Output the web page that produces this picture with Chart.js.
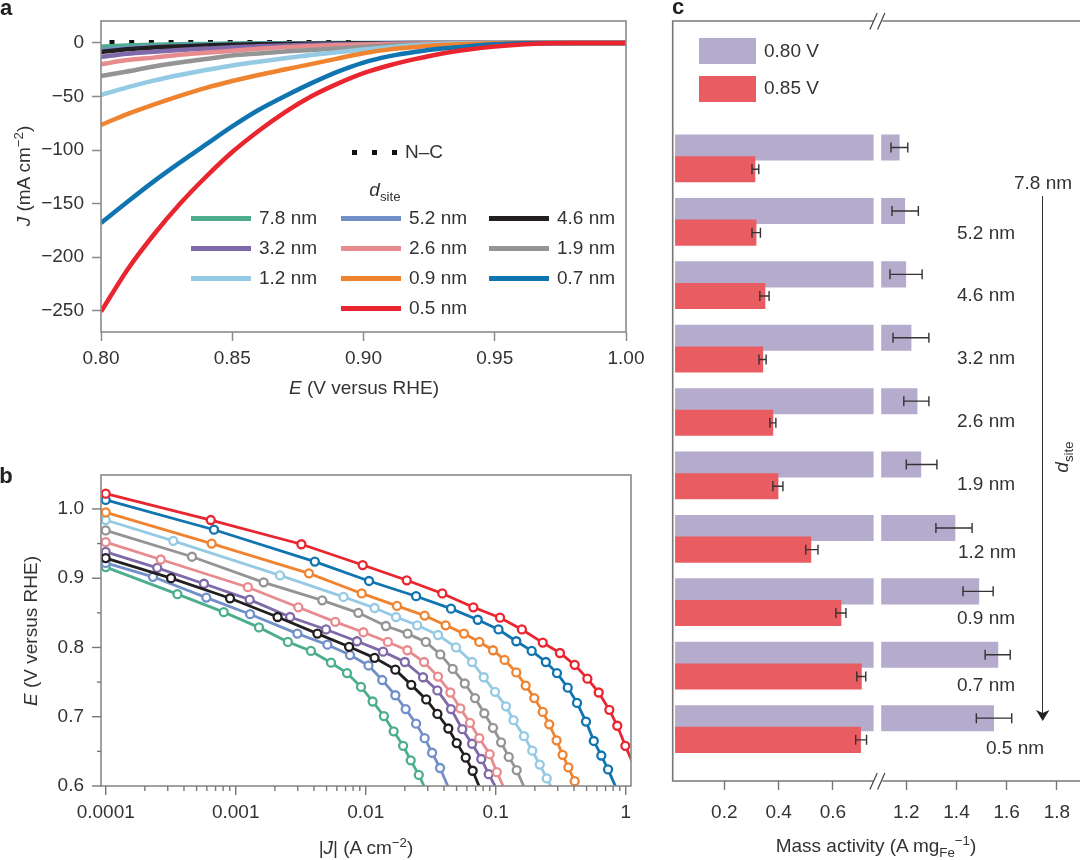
<!DOCTYPE html>
<html>
<head>
<meta charset="utf-8">
<script src="https://cdn.jsdelivr.net/npm/chart.js@4"></script>
<style>
    body { margin: 0; background: #fff; }
    #page { position: relative; width: 1080px; height: 860px; overflow: hidden;
            font-family: "Liberation Sans", sans-serif; font-size: 19px; color: #333; }
    canvas { position: absolute; }
    .lbl { position: absolute; white-space: nowrap; transform: translate(-50%, -50%); }
    .rot { transform: translate(-50%, -50%) rotate(-90deg); }
    .left { transform: translate(0, -50%); }
    .swatch { position: absolute; }
    .letter { font-weight: bold; font-size: 22px; color: #222; }
    sub, sup { font-size: 70%; line-height: 0; }
</style>
</head>
<body>
<div id="page">
    <canvas id="chartA" width="660" height="400" style="left:0;top:0"></canvas>
    <canvas id="chartB" width="660" height="400" style="left:0;top:460px"></canvas>
    <canvas id="chartC" width="420" height="860" style="left:660px;top:0"></canvas>
</div>
<script>
// panel a: polarisation curves
const aE = [0.80, 0.81, 0.82, 0.83, 0.84, 0.85, 0.86, 0.87, 0.88, 0.89, 0.90, 0.91, 0.92, 0.93, 0.94, 0.95, 0.96, 0.97, 0.98, 1.00];
const aNC = [0.5, 0.5, 0.5, 0.5, 0.5, 0.5, 0.5, 0.5, 0.5, 0.5, 0.5];
const a78 = [-3.5, -2.4, -1.7, -1.2, -0.9, -0.6, -0.4, -0.3, -0.2, -0.1, 0, 0, 0, 0, 0, 0, 0, 0, 0, 0];
const a52 = [-6.5, -4.7, -3.4, -2.6, -1.9, -1.4, -1, -0.7, -0.5, -0.35, -0.2, -0.1, -0.05, 0, 0, 0, 0, 0, 0, 0];
const a46 = [-8.5, -5.8, -4.3, -3.3, -2.5, -1.8, -1.3, -0.95, -0.7, -0.5, -0.35, -0.2, -0.1, -0.05, 0, 0, 0, 0, 0, 0];
const a32 = [-13, -10, -8.2, -6.6, -5.3, -4.1, -3.2, -2.4, -1.8, -1.3, -0.9, -0.6, -0.35, -0.2, -0.1, 0, 0, 0, 0, 0];
const a26 = [-20, -16, -13.7, -11, -9.2, -7.2, -5.4, -3.9, -2.8, -2.1, -1.5, -1, -0.6, -0.3, -0.1, 0, 0, 0, 0, 0];
const a19 = [-31, -26.6, -22, -18.2, -15, -11.7, -9.8, -7.9, -6.5, -5.1, -3.7, -2.3, -1.4, -0.7, -0.2, 0, 0, 0, 0, 0];
const a12 = [-48.6, -41.5, -35.2, -29.9, -25.2, -21, -17.5, -14.3, -11.3, -8.6, -6.2, -4, -2.2, -1, -0.3, 0, 0, 0, 0, 0];
const a09 = [-76.6, -66.5, -57.7, -49.5, -42, -35.6, -29.9, -24.8, -19.8, -14.6, -9.6, -6, -3.7, -2, -0.9, -0.2, 0, 0, 0, 0];
const a07 = [-168.1, -148.5, -129.5, -111.8, -94.8, -78, -62.7, -49.8, -37.8, -27, -18.3, -12.3, -8.2, -5.2, -3, -1.3, -0.3, 0, 0, 0];
const a05 = [-251, -212, -179.4, -150.5, -125, -101.9, -82.2, -64.8, -50, -38.2, -28.2, -20.8, -14.9, -9.8, -6.1, -3.3, -1.4, -0.3, -0.05, 0];
const aXTicks = [0.80, 0.85, 0.90, 0.95, 1.00];
const aYTicks = [-250, -200, -150, -100, -50, 0];

// panel b: Tafel plots, |J| then E for each site distance
const bJ78 = [0.0001, 0.000356, 0.000809, 0.00151, 0.00252, 0.00379, 0.00541, 0.00718, 0.0092, 0.0113, 0.0138, 0.0164, 0.0194, 0.0222, 0.0256, 0.0281];
const bE78 = [0.916, 0.877, 0.851, 0.829, 0.808, 0.795, 0.778, 0.763, 0.743, 0.722, 0.701, 0.679, 0.658, 0.637, 0.616, 0.600];
const bJ52 = [0.0001, 0.000231, 0.000594, 0.00129, 0.00298, 0.00507, 0.00757, 0.0105, 0.0134, 0.0169, 0.0203, 0.0244, 0.0284, 0.0324, 0.0373, 0.0428];
const bE52 = [0.922, 0.902, 0.872, 0.848, 0.820, 0.804, 0.789, 0.774, 0.753, 0.731, 0.711, 0.690, 0.669, 0.648, 0.626, 0.600];
const bJ46 = [0.0001, 0.000318, 0.000904, 0.0021, 0.00425, 0.00745, 0.0117, 0.0169, 0.0224, 0.0292, 0.0356, 0.0432, 0.0501, 0.0588, 0.0665, 0.0744];
const bE46 = [0.929, 0.900, 0.871, 0.844, 0.820, 0.801, 0.785, 0.768, 0.746, 0.725, 0.704, 0.683, 0.662, 0.641, 0.622, 0.600];
const bJ32 = [0.0001, 0.000249, 0.00057, 0.00128, 0.00262, 0.00495, 0.00857, 0.0136, 0.02, 0.0276, 0.0356, 0.0453, 0.0553, 0.0658, 0.0774, 0.0883, 0.0988];
const bE32 = [0.938, 0.915, 0.892, 0.869, 0.844, 0.826, 0.809, 0.794, 0.779, 0.757, 0.738, 0.711, 0.682, 0.661, 0.639, 0.617, 0.600];
const bJ26 = [0.0001, 0.000265, 0.00124, 0.00303, 0.00583, 0.00959, 0.0148, 0.0209, 0.0281, 0.036, 0.0448, 0.0535, 0.0634, 0.0748, 0.0899, 0.102, 0.114];
const bE26 = [0.952, 0.927, 0.887, 0.858, 0.837, 0.822, 0.808, 0.796, 0.779, 0.758, 0.735, 0.712, 0.691, 0.669, 0.646, 0.620, 0.600];
const bJ19 = [0.0001, 0.000461, 0.00164, 0.00463, 0.00877, 0.0143, 0.021, 0.029, 0.0375, 0.0467, 0.0578, 0.0693, 0.0817, 0.0953, 0.11, 0.126, 0.145, 0.164];
const bE19 = [0.969, 0.931, 0.894, 0.868, 0.850, 0.831, 0.820, 0.808, 0.790, 0.769, 0.748, 0.727, 0.705, 0.684, 0.663, 0.642, 0.623, 0.600];
const bJ12 = [0.0001, 0.000331, 0.00219, 0.00675, 0.0117, 0.0171, 0.0249, 0.036, 0.0495, 0.0658, 0.0809, 0.0988, 0.12, 0.137, 0.165, 0.191, 0.218, 0.247, 0.265];
const bE12 = [0.984, 0.954, 0.904, 0.873, 0.857, 0.844, 0.832, 0.818, 0.800, 0.779, 0.757, 0.736, 0.715, 0.695, 0.672, 0.651, 0.631, 0.611, 0.600];
const bJ09 = [0.0001, 0.000653, 0.00366, 0.00931, 0.0174, 0.0284, 0.0412, 0.057, 0.0748, 0.0953, 0.117, 0.144, 0.17, 0.198, 0.23, 0.258, 0.294, 0.327, 0.362, 0.405, 0.426];
const bE09 = [0.995, 0.950, 0.907, 0.878, 0.860, 0.846, 0.832, 0.820, 0.808, 0.796, 0.782, 0.764, 0.745, 0.727, 0.707, 0.689, 0.666, 0.645, 0.627, 0.607, 0.600];
const bJ07 = [0.0001, 0.000681, 0.00406, 0.0106, 0.0244, 0.0453, 0.0727, 0.105, 0.144, 0.189, 0.243, 0.296, 0.358, 0.422, 0.495, 0.568, 0.649, 0.731, 0.832];
const bE07 = [1.013, 0.970, 0.924, 0.896, 0.874, 0.856, 0.840, 0.826, 0.809, 0.795, 0.779, 0.763, 0.742, 0.720, 0.693, 0.665, 0.644, 0.624, 0.600];
const bJ05 = [0.0001, 0.000643, 0.0032, 0.00948, 0.0207, 0.0388, 0.0673, 0.108, 0.159, 0.23, 0.312, 0.405, 0.507, 0.62, 0.748, 0.861, 0.993, 1.14];
const bE05 = [1.022, 0.984, 0.949, 0.919, 0.897, 0.878, 0.858, 0.843, 0.826, 0.807, 0.792, 0.775, 0.755, 0.735, 0.710, 0.687, 0.658, 0.632];
const bXDecades = [0.0001, 0.001, 0.01, 0.1, 1];
const bXLabels = ['0.0001', '0.001', '0.01', '0.1', '1'];
const bYTicks = [0.60, 0.65, 0.70, 0.75, 0.80, 0.85, 0.90, 0.95, 1.00];

// panel c: mass activity with error bars
const cSites = ['7.8 nm', '5.2 nm', '4.6 nm', '3.2 nm', '2.6 nm', '1.9 nm', '1.2 nm', '0.9 nm', '0.7 nm', '0.5 nm'];
const c080 = [1.172, 1.194, 1.198, 1.219, 1.243, 1.258, 1.394, 1.489, 1.565, 1.548];
const c080Low = [1.139, 1.143, 1.135, 1.147, 1.19, 1.2, 1.318, 1.426, 1.514, 1.479];
const c080High = [1.206, 1.248, 1.263, 1.29, 1.29, 1.322, 1.462, 1.546, 1.614, 1.62];
const c085 = [0.313, 0.317, 0.35, 0.342, 0.379, 0.398, 0.519, 0.63, 0.705, 0.702];
const c085Low = [0.302, 0.302, 0.331, 0.328, 0.368, 0.379, 0.5, 0.611, 0.688, 0.684];
const c085High = [0.327, 0.333, 0.365, 0.354, 0.39, 0.416, 0.545, 0.648, 0.721, 0.724];
const cXTicks = [0.2, 0.4, 0.6, 1.2, 1.4, 1.6, 1.8];

const siteNames = ['7.8 nm', '5.2 nm', '4.6 nm', '3.2 nm', '2.6 nm', '1.9 nm', '1.2 nm', '0.9 nm', '0.7 nm', '0.5 nm'];
const siteColors = ['#4DAE8C', '#7290C8', '#231F20', '#7F69A9', '#E88B8E', '#949494', '#94CAE4', '#F0832F', '#0F74B0', '#E9252F'];

const axisGray = '#8a8a8a';
const textColor = '#333';
const tickFont = { family: '"Liberation Sans", sans-serif', size: 19 };

function setTicks(values) {
    return function (scale) {
        scale.ticks = values.map(v => ({ value: v }));
    };
}

// keep the plot areas where they belong whatever the labels measure
function fixWidth(w) {
    return function (scale) {
        scale.width = w;
        scale.paddingTop = scale.paddingBottom = scale.paddingLeft = scale.paddingRight = 0;
    };
}

function fixHeight(h) {
    return function (scale) {
        scale.height = h;
        scale.paddingTop = scale.paddingBottom = scale.paddingLeft = scale.paddingRight = 0;
    };
}

function minusLabel(v) {
    return v < 0 ? '\u2212' + Math.abs(v) : String(v);
}

// grey box around the plot area
const framePlugin = {
    id: 'frame',
    afterDatasetsDraw(chart) {
        const a = chart.chartArea;
        const c = chart.ctx;
        c.save();
        c.strokeStyle = axisGray;
        c.lineWidth = 1.6;
        c.strokeRect(a.left, a.top, a.right - a.left, a.bottom - a.top);
        c.restore();
    }
};

// long ticks where there is a label, short ticks elsewhere (panel b)
const twoTicksPlugin = {
    id: 'twoTicks',
    afterDatasetsDraw(chart) {
        const a = chart.chartArea;
        const c = chart.ctx;
        c.save();
        c.strokeStyle = '#777';
        c.lineWidth = 1.4;
        chart.scales.x.ticks.forEach(t => {
            const px = chart.scales.x.getPixelForValue(t.value);
            c.beginPath();
            c.moveTo(px, a.bottom);
            c.lineTo(px, a.bottom + (t.label ? 9 : 5));
            c.stroke();
        });
        chart.scales.y.ticks.forEach(t => {
            const py = chart.scales.y.getPixelForValue(t.value);
            c.beginPath();
            c.moveTo(a.left, py);
            c.lineTo(a.left - (t.label ? 9 : 4), py);
            c.stroke();
        });
        c.restore();
    }
};

/* panel a */
const aSeries = [a78, a52, a46, a32, a26, a19, a12, a09, a07, a05];
const aDatasets = aSeries.map((vals, i) => ({
    label: siteNames[i],
    data: vals.map((v, k) => ({ x: aE[k], y: v })),
    borderColor: siteColors[i],
    borderWidth: 4.5,
    pointRadius: 0,
    cubicInterpolationMode: 'monotone',
    order: -i
}));
aDatasets.push({
    label: 'N\u2013C',
    data: aNC.map((v, k) => ({ x: aE[k], y: v })),
    borderColor: '#111',
    borderWidth: 5,
    borderDash: [5, 14.7],
    borderDashOffset: 11.2,
    pointRadius: 0,
    order: 5
});

new Chart(document.getElementById('chartA'), {
    type: 'line',
    data: { datasets: aDatasets },
    plugins: [framePlugin],
    options: {
        responsive: false,
        animation: false,
        layout: { padding: { top: 21, right: 34, left: 0, bottom: 0 } },
        plugins: { legend: { display: false }, tooltip: { enabled: false } },
        scales: {
            x: {
                type: 'linear', min: 0.80, max: 1.00,
                afterBuildTicks: setTicks(aXTicks),
                afterFit: fixHeight(68),
                border: { display: false },
                grid: { drawOnChartArea: false, tickColor: axisGray, tickWidth: 1.5, tickLength: 9 },
                ticks: { color: textColor, font: tickFont, padding: 6, maxRotation: 0, autoSkip: false, callback: v => v.toFixed(2) }
            },
            y: {
                min: -270, max: 20.5,
                afterBuildTicks: setTicks(aYTicks),
                afterFit: fixWidth(101),
                border: { display: false },
                grid: { drawOnChartArea: false, tickColor: axisGray, tickWidth: 1.5, tickLength: 9 },
                ticks: { color: textColor, font: tickFont, padding: 8, autoSkip: false, callback: minusLabel }
            }
        }
    }
});

/* panel b */
const bXSeries = [bJ78, bJ52, bJ32, bJ26, bJ19, bJ12, bJ09, bJ07, bJ05, bJ46];
const bYSeries = [bE78, bE52, bE32, bE26, bE19, bE12, bE09, bE07, bE05, bE46];
const bNames = ['7.8 nm', '5.2 nm', '3.2 nm', '2.6 nm', '1.9 nm', '1.2 nm', '0.9 nm', '0.7 nm', '0.5 nm', '4.6 nm'];
const bDatasets = bXSeries.map((vals, i) => {
    const color = siteColors[siteNames.indexOf(bNames[i])];
    return {
        label: bNames[i],
        data: vals.map((v, k) => ({ x: v, y: bYSeries[i][k] })),
        borderColor: color,
        borderWidth: 2.8,
        pointBackgroundColor: '#fff',
        pointBorderColor: color,
        pointBorderWidth: 2.3,
        // the last point of each curve only carries the line out of the frame
        pointRadius: ctx => (ctx.dataIndex === vals.length - 1 ? 0 : 4),
        order: -i
    };
});

new Chart(document.getElementById('chartB'), {
    type: 'line',
    data: { datasets: bDatasets },
    plugins: [framePlugin, twoTicksPlugin],
    options: {
        responsive: false,
        animation: false,
        layout: { padding: { top: 15, right: 29, left: 0, bottom: 0 } },
        plugins: { legend: { display: false }, tooltip: { enabled: false } },
        scales: {
            x: {
                type: 'logarithmic', min: 0.000092, max: 1.098,
                afterBuildTicks: function (scale) {
                    const list = [];
                    bXDecades.forEach(d => {
                        for (let m = 1; m <= 9; m++) {
                            if (d === 1 && m > 1) break;
                            list.push({ value: d * m });
                        }
                    });
                    scale.ticks = list;
                },
                afterFit: fixHeight(74),
                border: { display: false },
                grid: { drawOnChartArea: false, tickColor: 'transparent', tickLength: 9 },
                ticks: {
                    color: textColor, font: tickFont, padding: 6, maxRotation: 0, autoSkip: false,
                    callback: function (v) {
                        const idx = bXDecades.findIndex(d => Math.abs(d - v) < d * 1e-6);
                        return idx >= 0 ? bXLabels[idx] : '';
                    }
                }
            },
            y: {
                min: 0.6, max: 1.049,
                afterBuildTicks: setTicks(bYTicks),
                afterFit: fixWidth(101),
                border: { display: false },
                grid: { drawOnChartArea: false, tickColor: 'transparent', tickLength: 9 },
                ticks: {
                    color: textColor, font: tickFont, padding: 8, autoSkip: false,
                    callback: v => (Math.round(v * 100) % 10 === 0 ? v.toFixed(1) : '')
                }
            }
        }
    }
});

/* panel c: linear axis with a piece cut out between breakFrom and breakTo */
class BrokenScale extends Chart.LinearScale {
    getPixelForValue(v) {
        const o = this.options;
        const a = o.breakFrom, b = o.breakTo;
        let f;
        if (v <= a) f = (v - this.min) / (a - this.min) * o.breakStart;
        else if (v >= b) f = o.breakEnd + (v - b) / (this.max - b) * (1 - o.breakEnd);
        else f = o.breakStart + (v - a) / (b - a) * (o.breakEnd - o.breakStart);
        return this.getPixelForDecimal(f);
    }
}
BrokenScale.id = 'broken';
BrokenScale.defaults = Chart.LinearScale.defaults;
Chart.register(BrokenScale);

const cBoxPlugin = {
    id: 'cBox',
    afterDatasetsDraw(chart) {
        const a = chart.chartArea;
        const c = chart.ctx;
        const sx = chart.scales.x;
        const sy = chart.scales.y;
        const gapL = sx.getPixelForValue(sx.options.breakFrom);
        const gapR = sx.getPixelForValue(sx.options.breakTo);
        c.save();
        // white slit through the purple bars
        c.fillStyle = '#fff';
        c.fillRect(gapL, a.top + 2, gapR - gapL, a.bottom - a.top - 4);

        // error bars
        c.strokeStyle = '#333';
        c.lineWidth = 1.4;
        const drawErr = (lo, hi, yVal) => {
            const x1 = sx.getPixelForValue(lo), x2 = sx.getPixelForValue(hi), y = sy.getPixelForValue(yVal);
            c.beginPath();
            c.moveTo(x1, y); c.lineTo(x2, y);
            c.moveTo(x1, y - 5); c.lineTo(x1, y + 5);
            c.moveTo(x2, y - 5); c.lineTo(x2, y + 5);
            c.stroke();
        };
        cSites.forEach((s, i) => {
            drawErr(c080Low[i], c080High[i], i - 0.171);
            drawErr(c085Low[i], c085High[i], i + 0.171);
        });

        // box with the axis break
        const mid = (gapL + gapR) / 2;
        c.strokeStyle = '#777';
        c.lineWidth = 1.6;
        c.beginPath();
        c.moveTo(mid - 4, a.top); c.lineTo(a.left, a.top); c.lineTo(a.left, a.bottom); c.lineTo(mid - 4, a.bottom);
        c.moveTo(mid + 5, a.top); c.lineTo(a.right, a.top);
        c.moveTo(mid + 5, a.bottom); c.lineTo(a.right, a.bottom);
        c.stroke();
        c.lineWidth = 1.2;
        c.strokeStyle = '#444';
        [a.top, a.bottom].forEach(y => {
            c.beginPath();
            c.moveTo(mid - 7.5, y + 8.5); c.lineTo(mid - 0.2, y - 8);
            c.moveTo(mid + 0.2, y + 8.5); c.lineTo(mid + 7.5, y - 8);
            c.stroke();
        });
        c.restore();
    }
};

new Chart(document.getElementById('chartC'), {
    type: 'bar',
    data: {
        datasets: [
            {
                label: '0.85 V',
                data: c085.map((v, i) => ({ x: v, y: i + 0.171 })),
                backgroundColor: '#E95C61',
                base: 0.02, grouped: false, barThickness: 25.4, order: 0
            },
            {
                label: '0.80 V',
                data: c080.map((v, i) => ({ x: v, y: i - 0.171 })),
                backgroundColor: '#B5ABCC',
                base: 0.02, grouped: false, barThickness: 25.4, order: 1
            }
        ]
    },
    plugins: [cBoxPlugin],
    options: {
        indexAxis: 'y',
        responsive: false,
        animation: false,
        layout: { padding: { top: 21, right: 0, left: 12.7, bottom: 0 } },
        plugins: { legend: { display: false }, tooltip: { enabled: false } },
        scales: {
            x: {
                type: 'broken', min: 0.01, max: 1.892,
                breakFrom: 0.75, breakTo: 1.10, breakStart: 0.4933, breakEnd: 0.5119,
                afterBuildTicks: setTicks(cXTicks),
                afterFit: fixHeight(79),
                border: { display: false },
                grid: { drawOnChartArea: false, tickColor: '#777', tickWidth: 1.4, tickLength: 9 },
                ticks: { color: textColor, font: tickFont, padding: 11, maxRotation: 0, autoSkip: false, callback: v => v.toFixed(1) }
            },
            y: { type: 'linear', reverse: true, offset: false, min: -2.167, max: 9.82, display: false }
        }
    }
});

/* text and legend keys that sit on top of the canvases */
const page = document.getElementById('page');

function addLabel(html, x, y, cls) {
    const el = document.createElement('div');
    el.className = 'lbl ' + (cls || '');
    el.style.left = x + 'px';
    el.style.top = y + 'px';
    el.innerHTML = html;
    page.appendChild(el);
}

function addSwatch(x, y, w, h, color) {
    const el = document.createElement('div');
    el.className = 'swatch';
    el.style.cssText = `left:${x}px;top:${y}px;width:${w}px;height:${h}px;background:${color}`;
    page.appendChild(el);
}

addLabel('a', 6, 8, 'letter');
addLabel('b', 6, 476, 'letter');
addLabel('c', 678, 7, 'letter');

// panel a
addLabel('<i>E</i> (V versus RHE)', 364, 388);
addLabel('<i>J</i> (mA cm<sup>\u22122</sup>)', 24, 176, 'rot');
[354, 374, 394].forEach(x => addSwatch(x - 2.5, 149.5, 5, 5, '#111'));
addLabel('N\u2013C', 405, 152, 'left');
addLabel('<i>d</i><sub>site</sub>', 385, 190);
const aLegendX = [191, 341, 489];
const aLegendY = [218, 248, 278, 308];
const aLegendCells = [[0, 0], [1, 0], [2, 0], [0, 1], [1, 1], [2, 1], [0, 2], [1, 2], [2, 2], [1, 3]];
siteNames.forEach((name, s) => {
    const [col, row] = aLegendCells[s];
    addSwatch(aLegendX[col], aLegendY[row] - 2, 60, 4.5, siteColors[s]);
    addLabel(name, aLegendX[col] + 68, aLegendY[row], 'left');
});

// panel b
addLabel('|<i>J</i>| (A cm<sup>\u22122</sup>)', 366, 848);
addLabel('<i>E</i> (V versus RHE)', 31, 631, 'rot');

// panel c
addSwatch(699, 38, 57, 26, '#B5ABCC');
addSwatch(699, 76, 57, 26, '#E95C61');
addLabel('0.80 V', 764, 51, 'left');
addLabel('0.85 V', 764, 88, 'left');
addLabel('Mass activity (A mg<sub>Fe</sub><sup>\u22121</sup>)', 876, 846);
const cLabelX = [1043, 986, 986, 986, 986, 986, 987, 986, 986, 1015];
const cLabelY = [183, 233, 295, 358, 421, 484, 552, 618, 685, 748];
cSites.forEach((s, i) => addLabel(s, cLabelX[i], cLabelY[i]));
addLabel('<i>d</i><sub>site</sub>', 1062, 457, 'rot');
addSwatch(1042, 196, 1.4, 520, '#333');
page.insertAdjacentHTML('beforeend',
    '<svg style="position:absolute;left:1036px;top:710px" width="14" height="12"><path d="M0 0 L6.7 3 L13.4 0 L6.7 11 Z" fill="#222"/></svg>');
</script>
</body>
</html>
